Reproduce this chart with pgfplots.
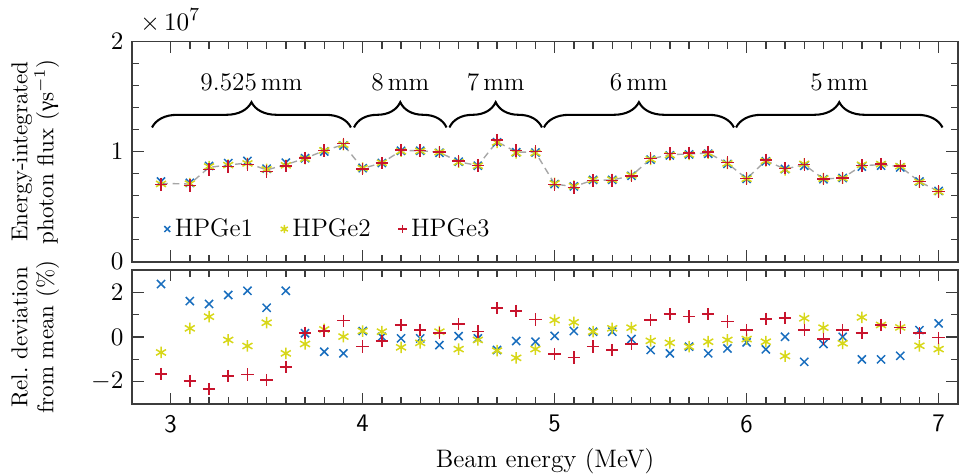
\documentclass[border=0pt]{standalone}
\usepackage{fontspec}
\usepackage{pgfplots}
\usepackage{pgfplotstable}
\pgfplotsset{compat=1.18}
\usetikzlibrary{decorations.pathreplacing}
\newfontfamily\greekfont{Liberation Serif}
\definecolor{c1}{RGB}{25,110,190}
\definecolor{c2}{RGB}{215,215,25}
\definecolor{c3}{RGB}{200,20,45}
\definecolor{axc}{RGB}{60,60,60}

\pgfplotstableread{
x m f1 f2 f3 d1 d2 d3
2.95 0.712 0.729 0.707 0.700 2.37 -0.69 -1.66
3.1 0.706 0.717 0.709 0.692 1.61 0.39 -1.97
3.2 0.857 0.870 0.865 0.837 1.48 0.91 -2.33
3.3 0.879 0.896 0.878 0.864 1.88 -0.13 -1.75
3.4 0.897 0.916 0.893 0.882 2.07 -0.40 -1.67
3.5 0.834 0.845 0.839 0.818 1.31 0.64 -1.93
3.6 0.882 0.900 0.876 0.870 2.07 -0.73 -1.33
3.7 0.939 0.941 0.936 0.941 0.17 -0.31 0.19
3.8 1.009 1.002 1.012 1.012 -0.66 0.34 0.27
3.9 1.064 1.056 1.064 1.072 -0.73 0.02 0.73
4.0 0.848 0.850 0.850 0.844 0.27 0.27 -0.43
4.1 0.897 0.897 0.899 0.895 0.01 0.24 -0.18
4.2 1.009 1.008 1.004 1.014 -0.06 -0.46 0.54
4.3 1.009 1.008 1.006 1.012 -0.06 -0.26 0.31
4.4 0.994 0.990 0.996 0.996 -0.36 0.24 0.17
4.5 0.909 0.909 0.904 0.914 0.04 -0.54 0.58
4.6 0.873 0.872 0.872 0.875 -0.06 -0.13 0.24
4.7 1.091 1.085 1.084 1.105 -0.58 -0.61 1.29
4.8 0.997 0.995 0.988 1.009 -0.18 -0.93 1.16
4.9 0.994 0.992 0.989 1.002 -0.21 -0.54 0.79
5.0 0.706 0.706 0.711 0.701 0.05 0.76 -0.76
5.1 0.682 0.684 0.686 0.676 0.27 0.66 -0.91
5.2 0.742 0.744 0.744 0.739 0.24 0.24 -0.43
5.3 0.742 0.744 0.745 0.738 0.24 0.39 -0.58
5.4 0.782 0.781 0.785 0.780 -0.09 0.42 -0.31
5.5 0.933 0.928 0.931 0.940 -0.58 -0.17 0.76
5.6 0.973 0.966 0.970 0.983 -0.73 -0.26 1.02
5.7 0.979 0.975 0.975 0.988 -0.43 -0.43 0.91
5.8 0.988 0.981 0.986 0.998 -0.73 -0.21 1.02
5.9 0.894 0.889 0.893 0.900 -0.51 -0.13 0.69
6.0 0.755 0.753 0.754 0.757 -0.24 -0.09 0.31
6.1 0.918 0.913 0.916 0.925 -0.55 -0.21 0.81
6.2 0.842 0.842 0.835 0.849 0.01 -0.85 0.86
6.3 0.882 0.872 0.889 0.885 -1.11 0.84 0.31
6.4 0.752 0.750 0.755 0.751 -0.31 0.42 -0.09
6.5 0.761 0.761 0.759 0.763 0.01 -0.28 0.31
6.6 0.873 0.864 0.881 0.875 -1.00 0.88 0.19
6.7 0.882 0.873 0.887 0.887 -1.00 0.54 0.54
6.8 0.864 0.857 0.868 0.868 -0.84 0.43 0.43
6.9 0.727 0.729 0.724 0.728 0.31 -0.39 0.17
7.0 0.639 0.643 0.636 0.639 0.61 -0.54 -0.03
}\data

\pgfplotsset{
  myax/.style={
    scale only axis, width=359pt,
    xmin=2.8, xmax=7.1,
    xtick={3,4,5,6,7}, minor x tick num=9,
    tick align=inside, tick pos=both,
    major tick length=5pt, minor tick length=3pt,
    axis line style={axc, line width=0.7pt},
    every tick/.style={axc, line width=0.6pt},
    ylabel style={align=center, at={(axis description cs:-0.1175,0.5)}, anchor=center,
      font=\fontsize{10}{11.3}\selectfont},
  },
  s1/.style={only marks, mark=x, mark size=2.5pt, c1, mark options={line width=0.65pt}},
  s2/.style={only marks, mark=asterisk, mark size=2.5pt, c2, mark options={line width=0.65pt}},
  s3/.style={only marks, mark=+, mark size=2.7pt, c3, mark options={line width=0.65pt}},
}

\begin{document}
\fontsize{11}{13}\selectfont
\begin{tikzpicture}
\begin{axis}[myax,
  name=top, anchor=north west, at={(0,0)},
  height=95.7pt, clip=false,
  ymin=0, ymax=2, ytick={0,1,2}, minor y tick num=4,
  xticklabels={},
  ylabel={Energy-integrated\\photon flux ({\greekfont γ}s$^{-1}$)},
  legend style={at={(axis cs:2.965,0.297)}, anchor=west, draw=none, fill=none,
    legend columns=-1, inner sep=0pt,
    /tikz/every even column/.append style={column sep=10pt}},
  legend image code/.code={\draw[#1, mark size=1.8pt] plot coordinates {(0.05cm,0cm)};},
]
\addplot[gray!70, densely dashed, line width=0.6pt, forget plot] table[x=x, y=m] {\data};
\addplot[s1] table[x=x, y=f1] {\data};
\addplot[s2] table[x=x, y=f2] {\data};
\addplot[s3] table[x=x, y=f3] {\data};
\legend{HPGe1, HPGe2, HPGe3}
\draw[decorate, decoration={brace, amplitude=11pt}, line width=0.9pt] (axis cs:2.903,1.22) -- (axis cs:3.939,1.22) node[midway, yshift=19.6pt]{9.525\,mm};
\draw[decorate, decoration={brace, amplitude=11pt}, line width=0.9pt] (axis cs:3.955,1.22) -- (axis cs:4.437,1.22) node[midway, yshift=19.6pt]{8\,mm};
\draw[decorate, decoration={brace, amplitude=11pt}, line width=0.9pt] (axis cs:4.452,1.22) -- (axis cs:4.934,1.22) node[midway, yshift=19.6pt]{7\,mm};
\draw[decorate, decoration={brace, amplitude=11pt}, line width=0.9pt] (axis cs:4.944,1.22) -- (axis cs:5.934,1.22) node[midway, yshift=19.6pt]{6\,mm};
\draw[decorate, decoration={brace, amplitude=11pt}, line width=0.9pt] (axis cs:5.945,1.22) -- (axis cs:7.02,1.22) node[midway, yshift=19.6pt]{5\,mm};
\node[anchor=base west, inner sep=0pt] at ([xshift=3.3pt, yshift=5pt]rel axis cs:0,1) {$\times\,10^{7}$};
\end{axis}
\begin{axis}[myax,
  anchor=north west, at={(0,-99.3pt)},
  height=58.3pt,
  ymin=-3, ymax=3, ytick={-2,0,2}, minor y tick num=1,
  xticklabels={3,4,5,6,7},
  xticklabel style={font=\sffamily, yshift=-1pt},
  xlabel={Beam energy (MeV)},
  xlabel style={at={(axis description cs:0.5,0)}, anchor=center, yshift=-25pt},
  ylabel={Rel.\ deviation\\from mean (\%)},
]
\addplot[s1] table[x=x, y=d1] {\data};
\addplot[s2] table[x=x, y=d2] {\data};
\addplot[s3] table[x=x, y=d3] {\data};
\end{axis}
\pgfresetboundingbox
\path (-57.5pt,18.1pt) rectangle (359.5pt,-188.4pt);
\end{tikzpicture}
\end{document}
